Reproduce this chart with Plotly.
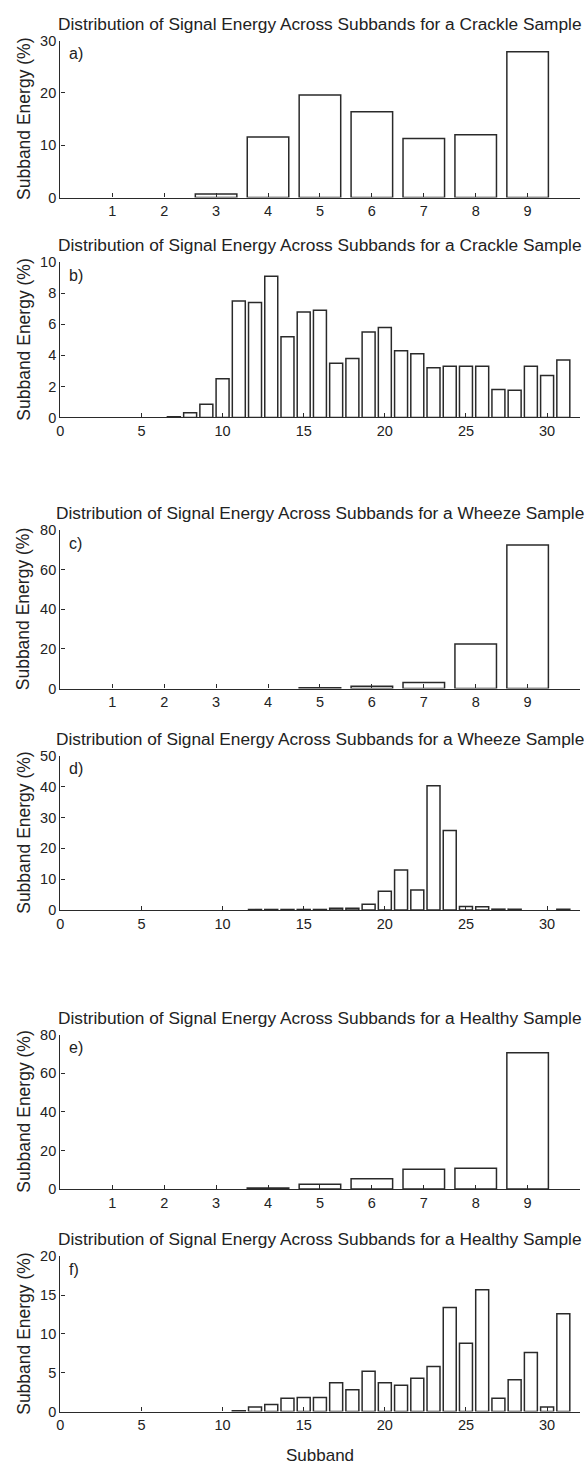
import plotly.graph_objects as go

W, H = 587, 1471

# ---------------- data ----------------
bands9 = [1, 2, 3, 4, 5, 6, 7, 8, 9]
bands31 = list(range(1, 32))

crackle_9 = [0, 0, 0.7, 11.6, 19.6, 16.4, 11.3, 12.0, 27.9]
crackle_31 = [0, 0, 0, 0, 0, 0, 0.05, 0.3, 0.85, 2.5,
              7.5, 7.4, 9.1, 5.2, 6.8, 6.9, 3.5, 3.8, 5.5, 5.8,
              4.3, 4.1, 3.2, 3.3, 3.3, 3.3, 1.8, 1.75, 3.3, 2.7, 3.7]
wheeze_9 = [0, 0, 0, 0, 0.4, 1.2, 3.0, 22.5, 72.5]
wheeze_31 = [0, 0, 0, 0, 0, 0, 0, 0, 0, 0,
             0, 0.2, 0.2, 0.2, 0.2, 0.2, 0.6, 0.6, 1.9, 6.1,
             13.0, 6.5, 40.3, 25.8, 1.2, 1.1, 0.3, 0.3, 0, 0, 0.3]
healthy_9 = [0, 0, 0, 0.5, 2.5, 5.3, 10.3, 10.8, 70.7]
healthy_31 = [0, 0, 0, 0, 0, 0, 0, 0, 0, 0,
              0.1, 0.6, 0.9, 1.7, 1.8, 1.8, 3.7, 2.8, 5.2, 3.7,
              3.4, 4.3, 5.8, 13.4, 8.8, 15.7, 1.7, 4.1, 7.6, 0.6, 12.6]

titles = [
    "Distribution of Signal Energy Across Subbands for a Crackle Sample",
    "Distribution of Signal Energy Across Subbands for a Crackle Sample",
    "Distribution of Signal Energy Across Subbands for a Wheeze Sample",
    "Distribution of Signal Energy Across Subbands for a Wheeze Sample",
    "Distribution of Signal Energy Across Subbands for a Healthy Sample",
    "Distribution of Signal Energy Across Subbands for a Healthy Sample",
]
panel_labels = ["a)", "b)", "c)", "d)", "e)", "f)"]
y_ranges = [30, 10, 80, 50, 80, 20]
y_ticks = [
    [0, 10, 20, 30],
    [0, 2, 4, 6, 8, 10],
    [0, 20, 40, 60, 80],
    [0, 10, 20, 30, 40, 50],
    [0, 20, 40, 60, 80],
    [0, 5, 10, 15, 20],
]
x_ticks9 = [1, 2, 3, 4, 5, 6, 7, 8, 9]
x_ticks31 = [0, 5, 10, 15, 20, 25, 30]
y_label = "Subband Energy (%)"
x_label = "Subband"

series = [
    (bands9, crackle_9), (bands31, crackle_31),
    (bands9, wheeze_9), (bands31, wheeze_31),
    (bands9, healthy_9), (bands31, healthy_31),
]

# ---------------- layout geometry (pixels) ----------------
left_px, right_px = 56.7, 579.5
panels_px = [(33, 191.7), (257, 414), (528, 688), (756, 912), (1038, 1194), (1262, 1419)]

FONT = "Liberation Sans, Arial, Helvetica, sans-serif"
TXT = "#222222"
LINE = "#2a2a2a"

fig = go.Figure()
layout = dict(
    width=W, height=H,
    margin=dict(l=0, r=0, t=0, b=0),
    paper_bgcolor="white", plot_bgcolor="white",
    showlegend=False,
    font=dict(family=FONT, color=TXT, size=14),
    annotations=[],
)

xdom = [left_px / W, right_px / W]
for i, ((xs, ys), (top, bot)) in enumerate(zip(series, panels_px)):
    n = i + 1
    xa = "x" if n == 1 else f"x{n}"
    ya = "y" if n == 1 else f"y{n}"
    # zero-energy subbands draw no bar
    ys_drawn = [v if v > 0 else None for v in ys]
    fig.add_trace(go.Bar(
        x=xs, y=ys_drawn, width=0.8, xaxis=xa, yaxis=ya,
        marker=dict(color="white", line=dict(color=LINE, width=1.5)),
        hoverinfo="x+y",
    ))
    is9 = len(xs) == 9
    layout["xaxis" if n == 1 else f"xaxis{n}"] = dict(
        domain=xdom, anchor=ya,
        range=[0, 10] if is9 else [0, 32],
        tickmode="array", tickvals=x_ticks9 if is9 else x_ticks31,
        ticks="inside", ticklen=4, tickwidth=1.2, tickcolor=LINE,
        showline=True, linecolor=LINE, linewidth=1.4,
        showgrid=False, zeroline=False,
        tickfont=dict(size=14.5, color=TXT, family=FONT),
    )
    layout["yaxis" if n == 1 else f"yaxis{n}"] = dict(
        domain=[1 - bot / H, 1 - top / H], anchor=xa,
        range=[0, y_ranges[i]],
        tickmode="array", tickvals=y_ticks[i],
        ticks="inside", ticklen=4, tickwidth=1.2, tickcolor=LINE,
        showline=True, linecolor=LINE, linewidth=1.4,
        showgrid=False, zeroline=False,
        tickfont=dict(size=14.5, color=TXT, family=FONT),
    )
    # title
    layout["annotations"].append(dict(
        text=titles[i], xref="paper", yref="paper",
        x=(left_px + right_px) / 2 / W, y=1 - (top - 17) / H,
        xanchor="center", yanchor="middle", showarrow=False,
        font=dict(size=17.3, color=TXT, family=FONT),
    ))
    # panel label
    layout["annotations"].append(dict(
        text=panel_labels[i], xref=f"{xa} domain", yref=f"{ya} domain",
        x=0.012, y=0.985, xanchor="left", yanchor="top", showarrow=False,
        font=dict(size=16, color=TXT, family=FONT),
    ))
    # y label
    layout["annotations"].append(dict(
        text=y_label, xref="paper", yref="paper",
        x=20 / W, y=1 - (top + bot) / 2 / H, textangle=-90,
        xanchor="center", yanchor="middle", showarrow=False,
        font=dict(size=17.5, color=TXT, family=FONT),
    ))

layout["annotations"].append(dict(
    text=x_label, xref="paper", yref="paper",
    x=(left_px + right_px) / 2 / W, y=1 - 1463 / H,
    xanchor="center", yanchor="middle", showarrow=False,
    font=dict(size=17, color=TXT, family=FONT),
))

fig.update_layout(**layout)
fig.write_html("out.html")
